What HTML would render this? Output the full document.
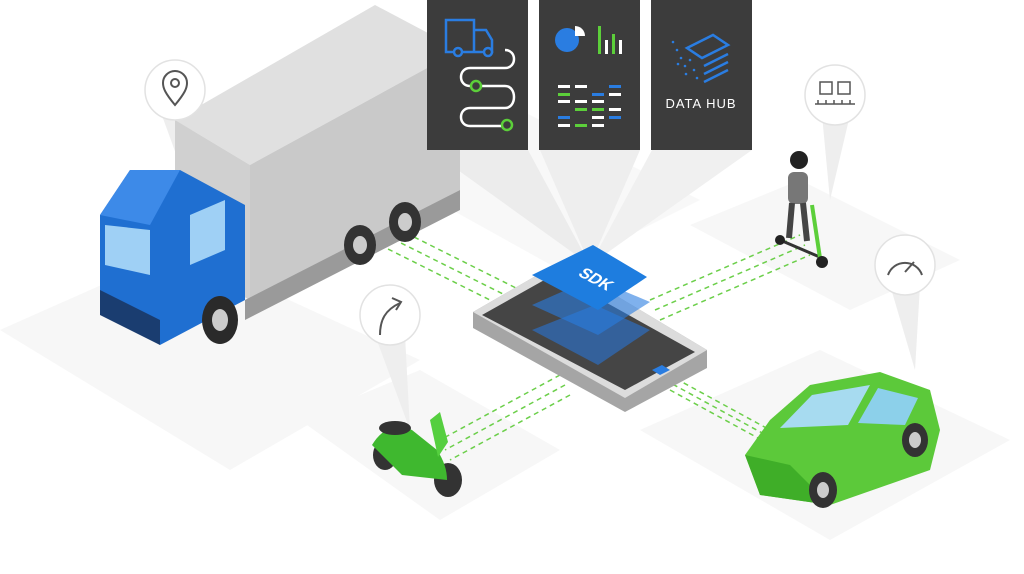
<!DOCTYPE html>
<html><head><meta charset="utf-8"><style>
html,body{margin:0;padding:0;background:#fff;width:1024px;height:574px;overflow:hidden}
svg{display:block}
text{font-family:"Liberation Sans",sans-serif}
</style></head><body>
<svg width="1024" height="574" viewBox="0 0 1024 574" xmlns="http://www.w3.org/2000/svg">
<!-- floor patches -->
<polygon points="0,330 180,250 420,360 230,470" fill="#f7f7f7"/>
<polygon points="300,420 420,370 560,450 440,520" fill="#f7f7f7"/>
<polygon points="640,430 820,350 1010,440 830,540" fill="#f7f7f7"/>
<polygon points="690,225 800,180 960,260 850,310" fill="#f7f7f7"/>
<polygon points="380,170 520,110 700,200 560,270" fill="#f8f8f8"/>
<!-- beams from panels -->
<polygon points="430,150 528,150 590,265" fill="#ececec"/>
<polygon points="540,150 640,150 590,265" fill="#eeeeee"/>
<polygon points="652,150 752,150 590,265" fill="#f0f0f0"/>
<!-- pin beams -->
<polygon points="160,110 190,110 200,220" fill="#eeeeee"/>
<polygon points="375,335 405,335 410,430" fill="#eeeeee"/>
<polygon points="822,115 850,115 830,200" fill="#eeeeee"/>
<polygon points="890,285 920,285 915,370" fill="#eeeeee"/>
<!-- dashed links -->
<g stroke="#6ccf4a" stroke-width="1.5" stroke-dasharray="5,4" fill="none">
<line x1="390" y1="225" x2="520" y2="290"/><line x1="385" y1="235" x2="515" y2="300"/><line x1="380" y1="245" x2="510" y2="310"/>
<line x1="650" y1="300" x2="800" y2="235"/><line x1="655" y1="310" x2="805" y2="245"/><line x1="660" y1="320" x2="810" y2="255"/>
<line x1="560" y1="375" x2="440" y2="440"/><line x1="565" y1="385" x2="445" y2="450"/><line x1="570" y1="395" x2="450" y2="460"/>
<line x1="660" y1="370" x2="770" y2="430"/><line x1="665" y1="380" x2="775" y2="440"/><line x1="670" y1="390" x2="780" y2="450"/>
</g>
<!-- truck box -->
<polygon points="175,120 375,5 460,50 250,165" fill="#e0e0e0"/>
<polygon points="175,120 250,165 250,300 175,260" fill="#d0d0d0"/>
<polygon points="250,165 460,50 460,190 250,300" fill="#c9c9c9"/>
<polygon points="245,300 460,190 460,210 245,320" fill="#9a9a9a"/>
<ellipse cx="360" cy="245" rx="16" ry="20" fill="#333"/><ellipse cx="360" cy="245" rx="7" ry="9" fill="#ccc"/>
<ellipse cx="405" cy="222" rx="16" ry="20" fill="#333"/><ellipse cx="405" cy="222" rx="7" ry="9" fill="#ccc"/>
<!-- truck cab -->
<polygon points="100,215 130,170 180,170 245,205 245,300 160,345 100,300" fill="#1f6fd1"/>
<polygon points="100,215 130,170 180,170 150,225" fill="#3d8ae8"/>
<polygon points="105,225 150,230 150,275 105,265" fill="#9fd0f5"/>
<polygon points="190,215 225,200 225,250 190,265" fill="#9fd0f5"/>
<polygon points="100,290 160,320 160,345 100,315" fill="#1a3d70"/>
<ellipse cx="220" cy="320" rx="18" ry="24" fill="#2a2a2a"/><ellipse cx="220" cy="320" rx="8" ry="11" fill="#ccc"/>
<!-- panels -->
<rect x="427" y="0" width="101" height="150" fill="#3c3c3c"/>
<rect x="539" y="0" width="101" height="150" fill="#3c3c3c"/>
<rect x="651" y="0" width="101" height="150" fill="#3c3c3c"/>
<g fill="none" stroke="#2a7de1" stroke-width="2.5"><path d="M446,20h28v32h-28z M474,30h12l6,10v12h-18"/></g>
<circle cx="458" cy="52" r="4" fill="#3c3c3c" stroke="#2a7de1" stroke-width="2.5"/><circle cx="488" cy="52" r="4" fill="#3c3c3c" stroke="#2a7de1" stroke-width="2.5"/>
<path d="M505,50c12,0 12,18 0,18h-35c-12,0 -12,18 0,18h35c12,0 12,22 0,22h-35c-12,0 -12,18 0,18h36" fill="none" stroke="#fff" stroke-width="2.5"/>
<circle cx="476" cy="86" r="5" fill="#3c3c3c" stroke="#5ccf3a" stroke-width="2.5"/><circle cx="507" cy="125" r="5" fill="#3c3c3c" stroke="#5ccf3a" stroke-width="2.5"/>
<circle cx="567" cy="40" r="12" fill="#2a7de1"/><path d="M575,26 a10,10 0 0 1 10,10 h-10z" fill="#fff"/>
<rect x="598" y="26" width="3" height="28" fill="#5ccf3a"/><rect x="605" y="40" width="3" height="14" fill="#fff"/><rect x="612" y="34" width="3" height="20" fill="#5ccf3a"/><rect x="619" y="40" width="3" height="14" fill="#fff"/>
<g>
<rect x="558" y="85" width="12" height="3" fill="#fff"/><rect x="575" y="85" width="12" height="3" fill="#fff"/><rect x="609" y="85" width="12" height="3" fill="#2a7de1"/>
<rect x="558" y="93" width="12" height="3" fill="#5ccf3a"/><rect x="592" y="93" width="12" height="3" fill="#2a7de1"/><rect x="609" y="93" width="12" height="3" fill="#fff"/>
<rect x="558" y="100" width="12" height="3" fill="#fff"/><rect x="575" y="100" width="12" height="3" fill="#fff"/><rect x="592" y="100" width="12" height="3" fill="#fff"/>
<rect x="575" y="108" width="12" height="3" fill="#5ccf3a"/><rect x="592" y="108" width="12" height="3" fill="#5ccf3a"/><rect x="609" y="108" width="12" height="3" fill="#fff"/>
<rect x="558" y="116" width="12" height="3" fill="#2a7de1"/><rect x="592" y="116" width="12" height="3" fill="#fff"/><rect x="609" y="116" width="12" height="3" fill="#2a7de1"/>
<rect x="558" y="124" width="12" height="3" fill="#fff"/><rect x="575" y="124" width="12" height="3" fill="#5ccf3a"/><rect x="592" y="124" width="12" height="3" fill="#fff"/>
</g>
<g fill="none" stroke="#2a7de1" stroke-width="2.5"><polygon points="687,48 713,35 728,45 702,58"/><line x1="704" y1="66" x2="728" y2="54"/><line x1="704" y1="74" x2="728" y2="62"/><line x1="704" y1="82" x2="728" y2="70"/></g>
<g fill="#2a7de1"><circle cx="673" cy="42" r="1.3"/><circle cx="677" cy="50" r="1.3"/><circle cx="681" cy="58" r="1.3"/><circle cx="685" cy="66" r="1.3"/><circle cx="690" cy="60" r="1.3"/><circle cx="694" cy="70" r="1.3"/><circle cx="678" cy="64" r="1.3"/><circle cx="686" cy="74" r="1.3"/><circle cx="697" cy="78" r="1.3"/></g>
<text x="701" y="108" font-size="13" fill="#fff" text-anchor="middle" letter-spacing="1">DATA HUB</text>
<!-- phone -->
<polygon points="473,312 560,262 707,350 707,368 625,412 473,328" fill="#a5a5a5"/>
<polygon points="473,312 560,262 707,350 625,398" fill="#dcdcdc"/>
<polygon points="482,315 555,274 695,352 625,390" fill="#454545"/>
<polygon points="652,370 662,365 670,370 660,375" fill="#2a7de1"/>
<!-- sdk layers -->
<polygon points="532,330 595,305 650,330 598,365" fill="#2f68b0" opacity="0.8"/>
<polygon points="532,305 593,278 650,302 598,335" fill="#2a7de1" opacity="0.6"/>
<polygon points="532,275 593,245 647,277 598,310" fill="#1e7ddf"/>
<text x="0" y="0" font-size="16" font-weight="bold" fill="#fff" text-anchor="middle" transform="translate(592,283) rotate(28) skewX(-18)">SDK</text>
<!-- pins -->
<g fill="#fff" stroke="#e2e2e2" stroke-width="1.5">
<circle cx="175" cy="90" r="30"/><circle cx="390" cy="315" r="30"/><circle cx="835" cy="95" r="30"/><circle cx="905" cy="265" r="30"/></g>
<path d="M175,105 c-10,-12 -12,-17 -12,-22 a12,12 0 0 1 24,0 c0,5 -2,10 -12,22z" fill="none" stroke="#555" stroke-width="2"/><circle cx="175" cy="83" r="4" fill="none" stroke="#555" stroke-width="2"/>
<path d="M380,335 c0,-15 5,-25 20,-32 M392,298 l9,4 -5,8" fill="none" stroke="#555" stroke-width="2"/>
<g fill="none" stroke="#555" stroke-width="1.5"><rect x="820" y="82" width="12" height="12"/><rect x="838" y="82" width="12" height="12"/><path d="M815,104h40 M818,104v-4 M826,104v-4 M834,104v-4 M842,104v-4 M850,104v-4"/></g>
<g fill="none" stroke="#555" stroke-width="2"><path d="M888,275 a18,18 0 0 1 34,0"/><line x1="905" y1="272" x2="914" y2="262"/></g>
<!-- scooter person -->
<line x1="780" y1="240" x2="822" y2="258" stroke="#333" stroke-width="3"/>
<line x1="820" y1="258" x2="812" y2="205" stroke="#5ccf3a" stroke-width="4"/>
<circle cx="780" cy="240" r="5" fill="#222"/><circle cx="822" cy="262" r="6" fill="#222"/>
<rect x="788" y="172" width="20" height="32" rx="6" fill="#777"/>
<circle cx="799" cy="160" r="9" fill="#222"/>
<path d="M792,203 l-3,35 M803,203 l4,38" stroke="#444" stroke-width="6"/>
<!-- moped -->
<ellipse cx="385" cy="455" rx="12" ry="15" fill="#333"/><ellipse cx="448" cy="480" rx="14" ry="17" fill="#333"/>
<path d="M372,445 q15,-25 40,-15 l25,20 q10,15 10,30 l-45,-5 z" fill="#3fb82f"/>
<path d="M430,420 l10,-8 8,30 -10,15z" fill="#55cf3f"/>
<ellipse cx="395" cy="428" rx="16" ry="7" fill="#333"/>
<!-- car -->
<polygon points="745,455 770,420 810,385 880,372 930,390 940,430 930,470 830,505 760,495" fill="#5cc93a"/>
<polygon points="780,428 812,395 870,385 848,425" fill="#a7dbf0"/>
<polygon points="858,423 878,388 918,398 905,425" fill="#8cd0ea"/>
<polygon points="745,455 790,465 830,505 760,495" fill="#3fae28"/>
<ellipse cx="823" cy="490" rx="14" ry="18" fill="#333"/><ellipse cx="823" cy="490" rx="6" ry="8" fill="#ccc"/>
<ellipse cx="915" cy="440" rx="13" ry="17" fill="#333"/><ellipse cx="915" cy="440" rx="6" ry="8" fill="#ccc"/>
</svg>
</body></html>
